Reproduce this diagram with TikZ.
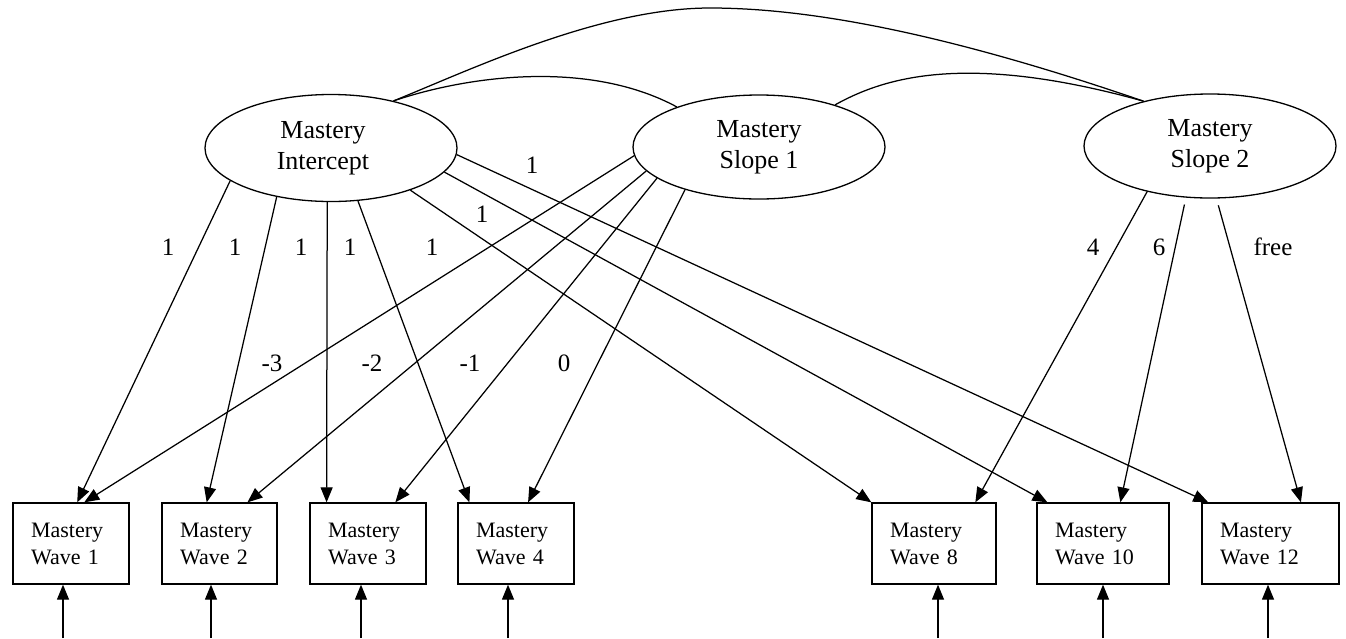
\documentclass[tikz,border=0pt]{standalone}
\usepackage{fontspec}
\setmainfont{Liberation Serif}
\usetikzlibrary{shapes.geometric,arrows.meta,calc}
\begin{document}
\begin{tikzpicture}[x=1pt,y=-1pt,
  latent/.style={draw,ellipse,line width=1.3pt,minimum width=252pt,minimum height=104pt,inner sep=0pt,align=center,font=\fontsize{26}{31}\selectfont},
  obs/.style={draw,rectangle,line width=1.3pt,minimum height=81pt,inner xsep=18pt,inner ysep=0pt,align=left,font=\fontsize{22}{27}\selectfont},
  load/.style={line width=1.25pt,-{Triangle[length=15pt,width=12pt]}},
  cov/.style={line width=1.25pt},
  lab/.style={font=\fontsize{25}{30}\selectfont,inner sep=0pt}]
\useasboundingbox (0,0) rectangle (1346,638);

% latent variables
\node[latent,minimum height=107pt] (I) at (331,148) {\kern-16pt Mastery\\\kern-16pt Intercept};
\node[latent] (S1) at (759,147) {Mastery\\Slope 1};
\node[latent] (S2) at (1210,146) {Mastery\\Slope 2};

% observed variables
\node[obs,text width=80pt] (b1) at (71,543.5) {Mastery\\Wave 1};
\node[obs,text width=79pt] (b2) at (219.5,543.5) {Mastery\\Wave 2};
\node[obs,text width=80pt] (b3) at (368,543.5) {Mastery\\Wave 3};
\node[obs,text width=80pt] (b4) at (516,543.5) {Mastery\\Wave 4};
\node[obs,text width=88pt] (b8) at (934,543.5) {Mastery\\Wave 8};
\node[obs,text width=96pt] (b10) at (1103,543.5) {Mastery\\Wave 10};
\node[obs,text width=101pt] (b12) at (1270.5,543.5) {Mastery\\Wave 12};

% covariances
\draw[cov] (I.37) .. controls (470,70) and (600,8) .. (710,8)
                  .. controls (830,8) and (980,45) .. (S2.146);
\draw[cov] (I.37) .. controls (470,75) and (590,60) .. (S1.154);
\draw[cov] (S1.29) .. controls (880,80) and (960,50) .. (S2.146);

% intercept loadings
\draw[load] (I.198) -- ($(b1.north west)!0.553!(b1.north east)$);
\draw[load] (I.222) -- ($(b2.north west)!0.39!(b2.north east)$);
\draw[load] (I.266) -- ($(b3.north west)!0.147!(b3.north east)$);
\draw[load] (I.297) -- ($(b4.north west)!0.103!(b4.north east)$);
\draw[load] (I.332.5) -- ($(b8.north west)!0.0!(b8.north east)$);
\draw[load] (I.348) -- ($(b10.north west)!0.083!(b10.north east)$);
\draw[load] (I.357) -- ($(b12.north west)!0.05!(b12.north east)$);

% slope 1 loadings
\draw[load] (S1.184) -- ($(b1.north west)!0.613!(b1.north east)$);
\draw[load] (S1.192) -- ($(b2.north west)!0.74!(b2.north east)$);
\draw[load] (S1.197) -- ($(b3.north west)!0.733!(b3.north east)$);
\draw[load] (S1.210) -- ($(b4.north west)!0.603!(b4.north east)$);

% slope 2 loadings
\draw[load] (S2.216) -- ($(b8.north west)!0.83!(b8.north east)$);
\draw[load,shorten <=7pt] (S2.245) -- ($(b10.north west)!0.63!(b10.north east)$);
\draw[load,shorten <=7pt] (S2.277) -- ($(b12.north west)!0.72!(b12.north east)$);

% residual arrows
\coordinate (e1) at (63,638);
\coordinate (e2) at (211,638);
\coordinate (e3) at (361,638);
\coordinate (e4) at (508,638);
\coordinate (e8) at (938,638);
\coordinate (e10) at (1103,638);
\coordinate (e12) at (1268,638);
\draw[load] (e1) -- (e1 |- b1.south);
\draw[load] (e2) -- (e2 |- b2.south);
\draw[load] (e3) -- (e3 |- b3.south);
\draw[load] (e4) -- (e4 |- b4.south);
\draw[load] (e8) -- (e8 |- b8.south);
\draw[load] (e10) -- (e10 |- b10.south);
\draw[load] (e12) -- (e12 |- b12.south);

% labels
\node[lab] (l1) at (168,247) {1};
\node[lab] (l2) at (235,247) {1};
\node[lab] (l3) at (301,247) {1};
\node[lab] (l4) at (350,247) {1};
\node[lab] (l5) at (432,247) {1};
\node[lab] (l6) at (482,214) {1};
\node[lab] (l7) at (532,165) {1};
\node[lab] (m1) at (272,363) {-3};
\node[lab] (m2) at (372,363) {-2};
\node[lab] (m3) at (470,363) {-1};
\node[lab] (m4) at (564,363) {0};
\node[lab] (n1) at (1093,247) {4};
\node[lab] (n2) at (1159,247) {6};
\node[lab] (n3) at (1273,247) {free};
\end{tikzpicture}
\end{document}
